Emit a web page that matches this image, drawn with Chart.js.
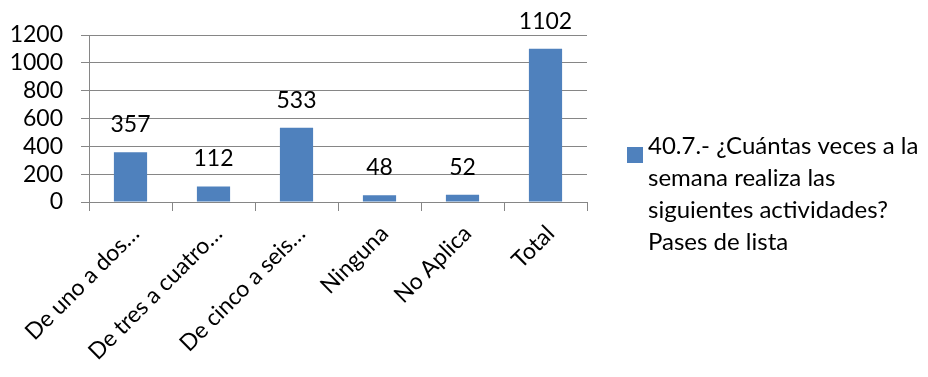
<!DOCTYPE html>
<html>
<head>
<meta charset="utf-8">
<script src="https://cdn.jsdelivr.net/npm/chart.js@4.4.0/dist/chart.umd.min.js"></script>
<style>
  body{margin:0;background:#fff;}
  #chart1{display:block;}
</style>
</head>
<body>
<canvas id="chart1" width="928" height="377"></canvas>
<script>
var categorias = ['De uno a dos…', 'De tres a cuatro…', 'De cinco a seis…', 'Ninguna', 'No Aplica', 'Total'];
var valores = [357, 112, 533, 48, 52, 1102];
var serie = '40.7.- ¿Cuántas veces a la semana realiza las siguientes actividades? Pases de lista';
var lineasLeyenda = ['40.7.- ¿Cuántas veces a la', 'semana realiza las', 'siguientes actividades?', 'Pases de lista'];
var ticksY = [0, 200, 400, 600, 800, 1000, 1200];

var fuente = 'Lato, Calibri, Carlito, sans-serif';
var azul = '#4F81BD';
var gris = '#868686';

// etiquetas encima de las barras
var etiquetas = {
  id: 'etiquetas',
  afterDatasetsDraw(chart) {
    var ctx = chart.ctx;
    var meta = chart.getDatasetMeta(0);
    ctx.save();
    ctx.font = '23px ' + fuente;
    ctx.fillStyle = '#000';
    ctx.textAlign = 'center';
    ctx.textBaseline = 'alphabetic';
    meta.data.forEach(function(bar, i) {
      ctx.fillText(valores[i], bar.x, bar.y - 20);
    });
    ctx.restore();
  }
};

// leyenda a la derecha, en varias lineas
var leyenda = {
  id: 'leyenda',
  afterDraw(chart) {
    var ctx = chart.ctx;
    ctx.save();
    ctx.fillStyle = azul;
    ctx.fillRect(627, 147, 16, 16);
    ctx.font = '24px ' + fuente;
    ctx.fillStyle = '#000';
    ctx.textAlign = 'left';
    ctx.textBaseline = 'middle';
    for (let i = 0; i < lineasLeyenda.length; i++) {
      ctx.fillText(lineasLeyenda[i], 648, 146 + i * 32);
    }
    ctx.restore();
  }
};

new Chart(document.querySelector('#chart1'), {
  type: 'bar',
  data: {
    labels: categorias,
    datasets: [{
      label: serie,
      data: valores,
      backgroundColor: azul,
      barPercentage: 0.4,
      categoryPercentage: 1
    }]
  },
  options: {
    responsive: false,
    animation: false,
    layout: { padding: { top: 35, right: 341, left: 0, bottom: 0 } },
    plugins: {
      legend: { display: false },
      tooltip: { enabled: false }
    },
    scales: {
      x: {
        afterFit(scale) { scale.height = 175; },
        grid: { offset: true, drawOnChartArea: false, color: gris, tickLength: 9 },
        border: { color: gris },
        ticks: {
          font: { family: fuente, size: 23 },
          color: '#000',
          minRotation: 45,
          maxRotation: 45,
          autoSkip: false,
          padding: 9,
          labelOffset: 5
        }
      },
      y: {
        min: 0,
        max: 1200,
        afterFit(scale) { scale.width = 89; },
        afterBuildTicks(scale) { scale.ticks = ticksY.map(function(v) { return { value: v }; }); },
        grid: { color: gris, tickLength: 8 },
        border: { color: gris },
        ticks: {
          font: { family: fuente, size: 23 },
          color: '#000',
          autoSkip: false,
          padding: 18,
          callback: function(v) { return String(v); }
        }
      }
    }
  },
  plugins: [etiquetas, leyenda]
});
</script>
</body>
</html>
